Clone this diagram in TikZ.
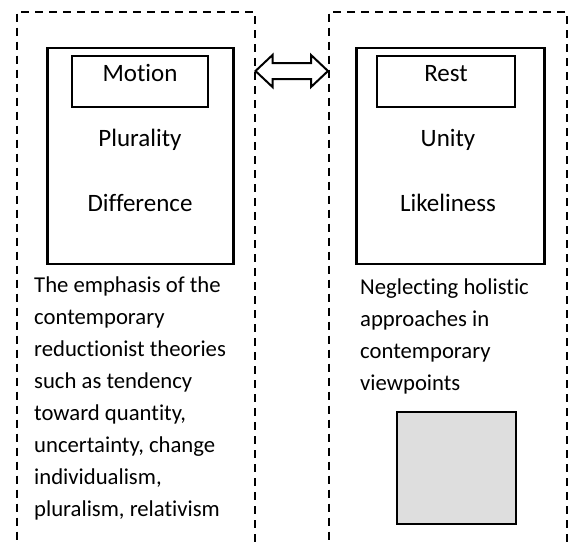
\documentclass[tikz,border=0pt]{standalone}
\usepackage{fontspec}
\setmainfont{Carlito}[RawFeature={-liga;-clig;-calt;-dlig;-rlig}]
\usetikzlibrary{positioning, calc}
\definecolor{boxgray}{HTML}{DEDEDE}
\tikzstyle{panel} = [rectangle, draw=black, line width=2pt, dash pattern=on 8pt off 6pt, minimum width=238pt, minimum height=600pt, anchor=north west, inner sep=0pt]
\tikzstyle{frame} = [rectangle, draw=black, line width=2.6pt, minimum width=186pt, minimum height=216pt, anchor=north west, inner sep=0pt]
\tikzstyle{word} = [font=\fontsize{25}{30}\selectfont, text height=14pt, text depth=14pt, inner sep=0pt]
\tikzstyle{title} = [word, rectangle, draw=black, line width=2pt, minimum width=136pt, minimum height=51pt]
\tikzstyle{note} = [font=\fontsize{22.7}{32}\selectfont, align=left, anchor=north west, inner sep=0pt]
\tikzstyle{link} = [draw=black, line width=2pt, line join=miter]

\begin{document}
\begin{tikzpicture}[x=1pt, y=-1pt, node distance=65pt]
        \useasboundingbox (0,0) rectangle (569,544);
        \clip (0,0) rectangle (569,544);
        % the two dashed panels
        \node (leftpanel) [panel] at (15.5,10.5) {};
        \node (rightpanel) [panel] at (328,10.5) {};
        \coordinate (lefttip) at ($(leftpanel.north east)+(0,60.5)$);
        \coordinate (righttip) at ($(rightpanel.north west)+(0,60.5)$);
        \draw [link] (lefttip) -- ++(17,-16) -- ++(0,8) -- ($(righttip)+(-17,-8)$) -- ++(0,-8)
            -- (righttip) -- ++(-17,16) -- ++(0,-8) -- ($(lefttip)+(17,8)$) -- ++(0,8) -- cycle;
        % left side
        \node (leftframe) [frame] at (46,46.5) {};
        \node (motion) [title] at (140,81.5) {Motion};
        \node (plurality) [word, below of=motion] {Plurality};
        \node (difference) [word, below of=plurality] {Difference};
        \node (leftnote) [note] at (34,276.5) {The emphasis of the\\contemporary\\reductionist theories\\such as tendency\\toward quantity,\\uncertainty, change\\individualism,\\pluralism, relativism};
        % right side
        \node (rightframe) [frame, minimum width=188pt] at (355,46.5) {};
        \node (rest) [title, minimum width=138pt] at (446,81.5) {Rest};
        \node (unity) [word, below of=rest, xshift=2pt] {Unity};
        \node (likeliness) [word, below of=unity] {Likeliness};
        \node (rightnote) [note] at (360,279) {Neglecting holistic\\approaches in\\contemporary\\viewpoints};
        \node (sample) [rectangle, draw=black, line width=2.4pt, fill=boxgray, minimum width=119pt, minimum height=112pt] at (456.5,468) {};
    \end{tikzpicture}
\end{document}
